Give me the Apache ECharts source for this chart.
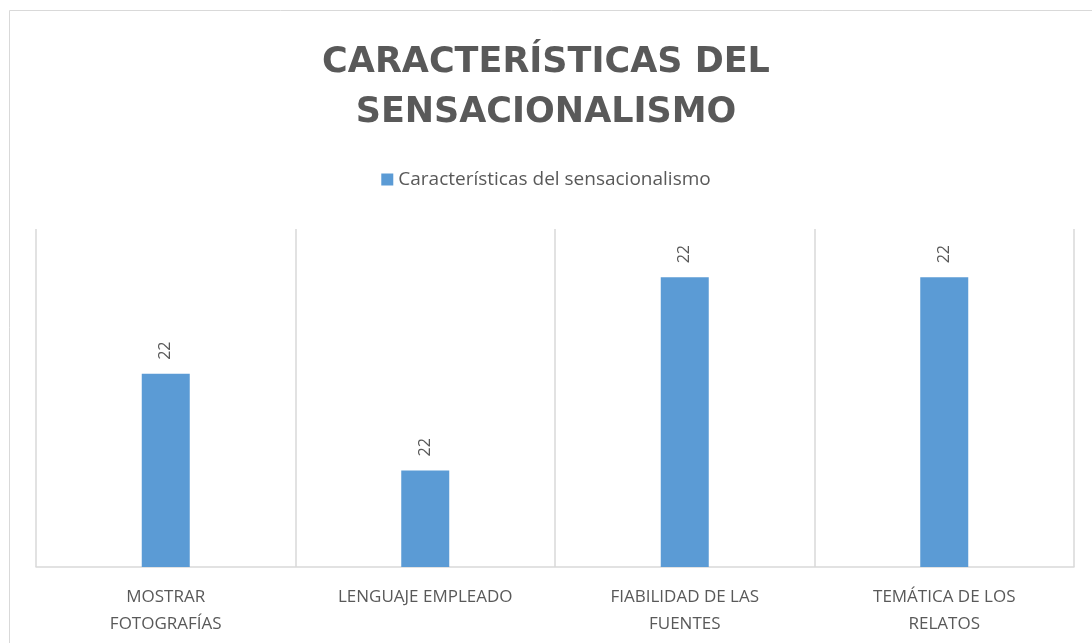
<!DOCTYPE html>
<html>
<head>
<meta charset="utf-8">
<script src="https://cdn.jsdelivr.net/npm/echarts@6/dist/echarts.min.js"></script>
<style>
  html, body { margin: 0; padding: 0; background: #fff; }
  #main { width: 1092px; height: 643px; }
</style>
</head>
<body>
<div id="main"></div>
<script>
const categories = ['MOSTRAR\nFOTOGRAFÍAS', 'LENGUAJE EMPLEADO', 'FIABILIDAD DE LAS\nFUENTES', 'TEMÁTICA DE LOS\nRELATOS'];
const values = [2, 1, 3, 3];
const dataLabels = ['22', '22', '22', '22'];
const seriesName = 'Características del sensacionalismo';

const chart = echarts.init(document.getElementById('main'));

const option = {
  animation: false,
  title: {
    text: 'CARACTERÍSTICAS DEL\nSENSACIONALISMO',
    left: 'center',
    top: 33,
    textStyle: {
      fontFamily: 'DejaVu Sans',
      fontWeight: 'bold',
      fontSize: 35,
      lineHeight: 50,
      color: '#595959'
    }
  },
  legend: {
    data: [seriesName],
    top: 165,
    left: 'center',
    itemWidth: 12,
    itemHeight: 12,
    itemGap: 6,
    icon: 'rect',
    textStyle: { fontFamily: 'Open Sans', fontSize: 19, color: '#595959' }
  },
  graphic: [{
    type: 'rect',
    shape: { x: 9.5, y: 10.5, width: 1100, height: 700 },
    style: { fill: 'none', stroke: '#d9d9d9', lineWidth: 1 },
    silent: true
  }],
  grid: { left: 36, right: 18, top: 229, bottom: 76 },
  xAxis: {
    type: 'category',
    data: categories,
    boundaryGap: true,
    axisLine: { lineStyle: { color: '#d9d9d9', width: 1.5 } },
    axisTick: { show: false },
    splitLine: { show: true, lineStyle: { color: '#d9d9d9', width: 1.5 } },
    axisLabel: {
      interval: 0,
      margin: 17,
      fontFamily: 'Open Sans',
      fontSize: 17,
      lineHeight: 27,
      color: '#595959'
    }
  },
  yAxis: {
    type: 'value',
    min: 0,
    max: 3.5,
    show: false,
    splitLine: { show: false }
  },
  series: [{
    name: seriesName,
    type: 'bar',
    data: values,
    barWidth: 48,
    itemStyle: { color: '#5b9bd5' },
    label: {
      show: true,
      position: 'top',
      rotate: 90,
      align: 'left',
      verticalAlign: 'middle',
      distance: 14,
      fontFamily: 'Open Sans',
      fontSize: 16,
      color: '#595959',
      formatter: p => dataLabels[p.dataIndex]
    }
  }]
};

chart.setOption(option);
</script>
</body>
</html>
